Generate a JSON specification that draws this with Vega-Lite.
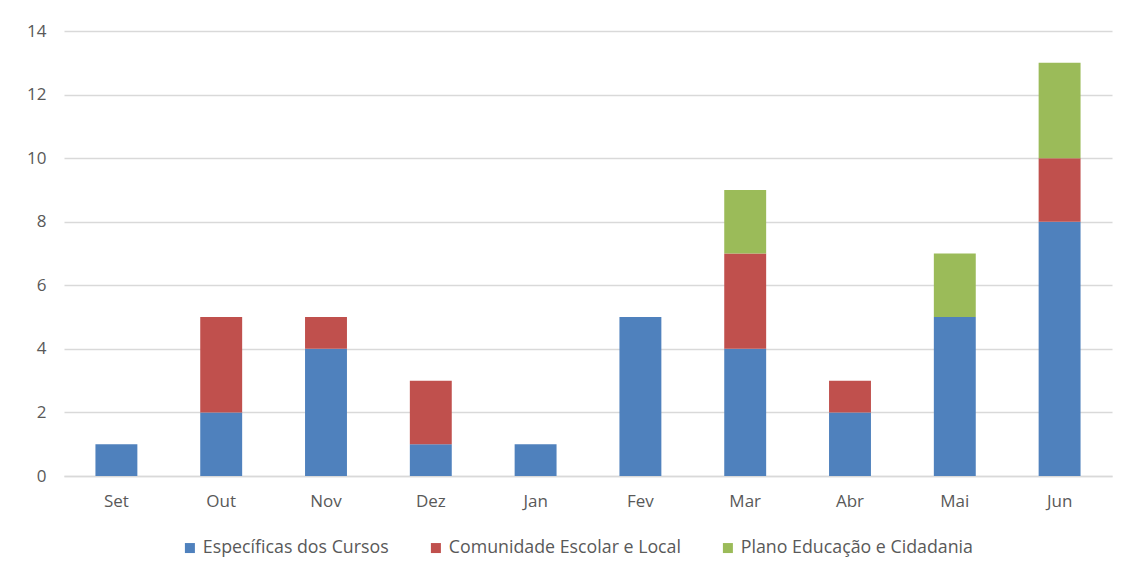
{
  "$schema": "https://vega.github.io/schema/vega-lite/v6.json",
  "width": 1048,
  "height": 445,
  "autosize": "none",
  "padding": {"left": 64, "top": 31, "right": 21, "bottom": 103},
  "background": "white",
  "data": {
    "values": [
      {"mes": "Set", "tipo": "Específicas dos Cursos", "n": 1},
      {"mes": "Out", "tipo": "Específicas dos Cursos", "n": 2},
      {"mes": "Out", "tipo": "Comunidade Escolar e Local", "n": 3},
      {"mes": "Nov", "tipo": "Específicas dos Cursos", "n": 4},
      {"mes": "Nov", "tipo": "Comunidade Escolar e Local", "n": 1},
      {"mes": "Dez", "tipo": "Específicas dos Cursos", "n": 1},
      {"mes": "Dez", "tipo": "Comunidade Escolar e Local", "n": 2},
      {"mes": "Jan", "tipo": "Específicas dos Cursos", "n": 1},
      {"mes": "Fev", "tipo": "Específicas dos Cursos", "n": 5},
      {"mes": "Mar", "tipo": "Específicas dos Cursos", "n": 4},
      {"mes": "Mar", "tipo": "Comunidade Escolar e Local", "n": 3},
      {"mes": "Mar", "tipo": "Plano Educação e Cidadania", "n": 2},
      {"mes": "Abr", "tipo": "Específicas dos Cursos", "n": 2},
      {"mes": "Abr", "tipo": "Comunidade Escolar e Local", "n": 1},
      {"mes": "Mai", "tipo": "Específicas dos Cursos", "n": 5},
      {"mes": "Mai", "tipo": "Plano Educação e Cidadania", "n": 2},
      {"mes": "Jun", "tipo": "Específicas dos Cursos", "n": 8},
      {"mes": "Jun", "tipo": "Comunidade Escolar e Local", "n": 2},
      {"mes": "Jun", "tipo": "Plano Educação e Cidadania", "n": 3}
    ]
  },
  "transform": [
    {"calculate": "indexof(['Específicas dos Cursos', 'Comunidade Escolar e Local', 'Plano Educação e Cidadania'], datum.tipo)", "as": "ordem"}
  ],
  "mark": {"type": "bar"},
  "encoding": {
    "x": {
      "field": "mes",
      "type": "nominal",
      "sort": ["Set", "Out", "Nov", "Dez", "Jan", "Fev", "Mar", "Abr", "Mai", "Jun"],
      "scale": {"paddingInner": 0.6, "paddingOuter": 0.3},
      "axis": {
        "title": null,
        "labelAngle": 0,
        "ticks": false,
        "domainColor": "#d9d9d9",
        "domainWidth": 1.5,
        "labelPadding": 17,
        "labelFont": "Open Sans",
        "labelFontSize": 17,
        "labelColor": "#595959"
      }
    },
    "y": {
      "field": "n",
      "type": "quantitative",
      "aggregate": "sum",
      "scale": {"domain": [0, 14]},
      "axis": {
        "title": null,
        "values": [0, 2, 4, 6, 8, 10, 12, 14],
        "domain": false,
        "ticks": false,
        "gridColor": "#d9d9d9",
        "gridWidth": 1.5,
        "labelPadding": 18,
        "labelFont": "Open Sans",
        "labelFontSize": 17,
        "labelColor": "#595959"
      }
    },
    "order": {"field": "ordem", "type": "quantitative", "sort": "ascending"},
    "color": {
      "field": "tipo",
      "type": "nominal",
      "scale": {
        "domain": ["Específicas dos Cursos", "Comunidade Escolar e Local", "Plano Educação e Cidadania"],
        "range": ["#4f81bd", "#c0504d", "#9bbb59"]
      },
      "legend": {
        "title": null,
        "orient": "none",
        "legendX": 117,
        "legendY": 508,
        "direction": "horizontal",
        "symbolType": "square",
        "symbolSize": 100,
        "symbolStrokeWidth": 0,
        "labelFont": "Open Sans",
        "labelFontSize": 17.8,
        "labelColor": "#595959",
        "labelLimit": 0,
        "labelOffset": 4,
        "columnPadding": 38
      }
    }
  },
  "config": {"view": {"stroke": null}}
}
